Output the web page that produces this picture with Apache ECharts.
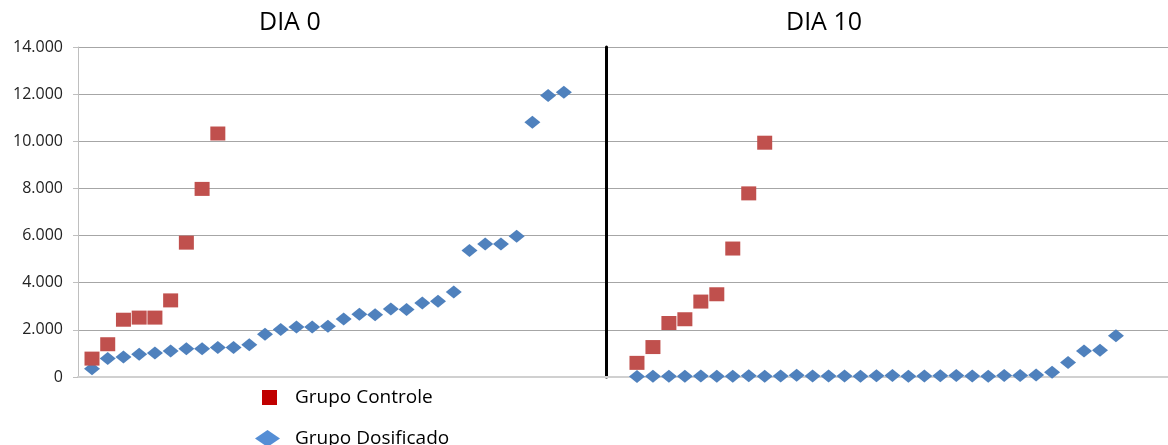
<!DOCTYPE html>
<html>
<head>
<meta charset="utf-8">
<script src="https://cdn.jsdelivr.net/npm/echarts@6/dist/echarts.min.js"></script>
<style>html,body{margin:0;padding:0;background:#fff;}#c{width:1168px;height:445px;}</style>
</head>
<body>
<div id="c"></div>
<script>
const panelTitles = ['DIA 0', 'DIA 10'];
const seriesNames = ['Grupo Controle', 'Grupo Dosificado'];
const dia0Controle = [780, 1390, 2430, 2520, 2520, 3250, 5700, 7980, 10330];
const dia0Dosificado = [350, 780, 850, 960, 1020, 1100, 1200, 1200, 1250, 1250, 1370, 1810, 2010, 2120, 2120, 2150, 2460, 2660, 2640, 2890, 2860, 3140, 3210, 3610, 5370, 5640, 5640, 5970, 10810, 11940, 12080];
const dia10Controle = [600, 1270, 2290, 2450, 3200, 3510, 5450, 7790, 9940];
const dia10Dosificado = [20, 30, 30, 30, 40, 30, 30, 50, 30, 40, 70, 40, 40, 40, 30, 50, 60, 30, 40, 50, 60, 40, 30, 60, 60, 80, 200, 620, 1100, 1130, 1750];
const yTickLabels = ['0', '2.000', '4.000', '6.000', '8.000', '10.000', '12.000', '14.000'];

const toPairs = arr => arr.map((v, i) => [i + 1, v]);
const FONT = 'Open Sans';
const gridColor = '#a6a6a6';

const chart = echarts.init(document.getElementById('c'));
const ctrlStyle = { type: 'scatter', symbol: 'rect', symbolSize: [15, 14], itemStyle: { color: '#c0504d', opacity: 1 }, z: 3 };
const dosStyle = { type: 'scatter', symbol: 'diamond', symbolSize: [16, 13], itemStyle: { color: '#4f81bd', opacity: 1 }, z: 2 };

chart.setOption({
  animation: false,
  backgroundColor: '#fff',
  textStyle: { fontFamily: FONT },
  title: [
    { text: panelTitles[0], left: 254, top: 5, textStyle: { fontFamily: FONT, fontSize: 25, fontWeight: 'normal', color: '#000' } },
    { text: panelTitles[1], left: 781, top: 5, textStyle: { fontFamily: FONT, fontSize: 25, fontWeight: 'normal', color: '#000' } }
  ],
  legend: [
    {
      data: [{ name: seriesNames[0], itemStyle: { color: '#c00000', opacity: 1 } }],
      left: 257, top: 383, itemWidth: 15, itemHeight: 15, icon: 'rect',
      textStyle: { fontFamily: FONT, fontSize: 19, color: '#000', padding: [0, 0, 0, 13] }
    },
    {
      data: [{ name: seriesNames[1], itemStyle: { color: '#558ed5', opacity: 1 } }],
      left: 250, top: 424, itemWidth: 25, itemHeight: 17, icon: 'diamond',
      textStyle: { fontFamily: FONT, fontSize: 19, color: '#000', padding: [0, 0, 0, 10] }
    }
  ],
  grid: [
    { left: 78, top: 47, width: 528, height: 330 },
    { left: 606, top: 47, width: 562, height: 330 }
  ],
  xAxis: [
    { gridIndex: 0, type: 'value', min: 0.11, max: 33.68, axisLabel: { show: false }, axisTick: { show: false }, splitLine: { show: false }, axisLine: { show: true, onZero: false, lineStyle: { color: '#d0d0d0', width: 2 } } },
    { gridIndex: 1, type: 'value', min: -0.94, max: 34.26, axisLabel: { show: false }, axisTick: { show: false }, splitLine: { show: false }, axisLine: { show: true, onZero: false, lineStyle: { color: '#d0d0d0', width: 2 } } }
  ],
  yAxis: [
    {
      gridIndex: 0, type: 'value', min: 0, max: 14000, interval: 2000,
      axisLine: { show: true, onZero: false, lineStyle: { color: '#bfbfbf' } },
      axisTick: { show: true, length: 5, lineStyle: { color: '#bfbfbf' } },
      axisLabel: { margin: 15, fontFamily: FONT, fontSize: 16, color: '#222', formatter: (v, i) => yTickLabels[i] },
      splitLine: { show: true, lineStyle: { color: gridColor, width: 1 } }
    },
    {
      gridIndex: 1, type: 'value', min: 0, max: 14000, interval: 2000,
      axisLine: { show: true, onZero: false, lineStyle: { color: '#000', width: 3 } },
      axisTick: { show: false },
      axisLabel: { show: false },
      splitLine: { show: true, lineStyle: { color: gridColor, width: 1 } }
    }
  ],
  series: [
    Object.assign({ name: seriesNames[1], xAxisIndex: 0, yAxisIndex: 0, data: toPairs(dia0Dosificado) }, dosStyle),
    Object.assign({ name: seriesNames[0], xAxisIndex: 0, yAxisIndex: 0, data: toPairs(dia0Controle) }, ctrlStyle),
    Object.assign({ name: seriesNames[1], xAxisIndex: 1, yAxisIndex: 1, data: toPairs(dia10Dosificado) }, dosStyle),
    Object.assign({ name: seriesNames[0], xAxisIndex: 1, yAxisIndex: 1, data: toPairs(dia10Controle) }, ctrlStyle)
  ]
});
</script>
</body>
</html>
